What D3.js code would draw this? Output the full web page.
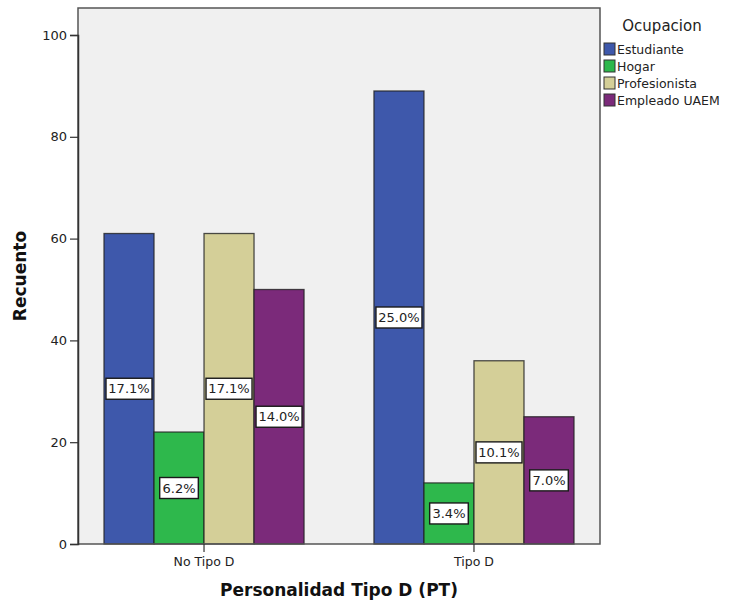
<!DOCTYPE html>
<html>
<head>
<meta charset="utf-8">
<script src="https://cdn.jsdelivr.net/npm/d3@7"></script>
<style>
  body { margin: 0; background: #ffffff; }
  svg { display: block; font-family: "DejaVu Sans", sans-serif; }
</style>
</head>
<body>
<svg id="chart" width="730" height="603"></svg>
<script>
const groups = ["No Tipo D", "Tipo D"];
const seriesNames = ["Estudiante", "Hogar", "Profesionista", "Empleado UAEM"];
const seriesColors = ["#3e58ab", "#2eb84c", "#d4cf98", "#7b2a7a"];
const estudiante = [61, 89];
const hogar = [22, 12];
const profesionista = [61, 36];
const empleado = [50, 25];
const pctLabels = [["17.1%", "25.0%"], ["6.2%", "3.4%"], ["17.1%", "10.1%"], ["14.0%", "7.0%"]];
const yTicks = [0, 20, 40, 60, 80, 100];

const seriesValues = [estudiante, hogar, profesionista, empleado];
const data = [];
seriesNames.forEach((s, si) => groups.forEach((g, gi) => {
  data.push({ series: s, si, group: g, value: seriesValues[si][gi], label: pctLabels[si][gi] });
}));

const svg = d3.select("#chart");
const pLeft = 78, pRight = 600, pTop = 8, pBottom = 544;

const x0 = d3.scaleBand().domain(groups).range([pLeft, pRight]).paddingInner(0.259).paddingOuter(0.0963);
const x1 = d3.scaleBand().domain(seriesNames).range([0, x0.bandwidth()]);
const y = d3.scaleLinear().domain([0, 100]).range([544, 35]);

// plot background
svg.append("rect").attr("x", pLeft).attr("y", pTop).attr("width", pRight - pLeft).attr("height", pBottom - pTop)
  .attr("fill", "#f0f0f0");

// bars
svg.append("g").selectAll("rect").data(data).join("rect")
  .attr("x", d => x0(d.group) + x1(d.series))
  .attr("y", d => y(d.value))
  .attr("width", x1.bandwidth())
  .attr("height", d => y(0) - y(d.value))
  .attr("fill", d => seriesColors[d.si])
  .attr("stroke", "#222").attr("stroke-opacity", 0.8).attr("stroke-width", 1.3);

// labels
const lab = svg.append("g").selectAll("g").data(data).join("g")
  .attr("transform", d => `translate(${x0(d.group) + x1(d.series) + x1.bandwidth() / 2},${y(d.value / 2)})`);
lab.append("rect")
  .attr("x", d => -(d.label.length * 7.4 + 9) / 2).attr("y", -10.5)
  .attr("width", d => d.label.length * 7.4 + 9).attr("height", 21)
  .attr("fill", "#ffffff").attr("stroke", "#1a1a1a").attr("stroke-width", 1.4);
lab.append("text").text(d => d.label)
  .attr("text-anchor", "middle").attr("dy", "0.36em")
  .attr("font-size", 13).attr("fill", "#222");

// frame
svg.append("rect").attr("x", pLeft).attr("y", pTop).attr("width", pRight - pLeft).attr("height", pBottom - pTop)
  .attr("fill", "none").attr("stroke", "#555").attr("stroke-width", 1.5);

// y axis
const yAxis = svg.append("g").attr("transform", `translate(${pLeft},0)`)
  .call(d3.axisLeft(y).tickValues(yTicks).tickSize(8).tickPadding(3).tickFormat(d3.format("d")));
yAxis.select(".domain").attr("stroke", "#333").attr("stroke-width", 1.5);
yAxis.selectAll(".tick line").attr("stroke", "#333").attr("stroke-width", 1.2);
yAxis.selectAll(".tick text").attr("font-size", 13).attr("fill", "#222").attr("font-family", "DejaVu Sans, sans-serif");

// x axis
const xAxis = svg.append("g").attr("transform", `translate(0,${pBottom})`)
  .call(d3.axisBottom(x0).tickSize(8).tickPadding(5));
xAxis.select(".domain").remove();
xAxis.selectAll(".tick line").attr("stroke", "#333").attr("stroke-width", 1.2);
xAxis.selectAll(".tick text").attr("font-size", 12.5).attr("fill", "#222").attr("font-family", "DejaVu Sans, sans-serif");

// axis titles
svg.append("text").text("Recuento")
  .attr("transform", "translate(26,276) rotate(-90)")
  .attr("text-anchor", "middle").attr("font-size", 17).attr("font-weight", "bold").attr("fill", "#111");
svg.append("text").text("Personalidad Tipo D (PT)")
  .attr("x", 339).attr("y", 596)
  .attr("text-anchor", "middle").attr("font-size", 17).attr("font-weight", "bold").attr("fill", "#111");

// legend
const leg = svg.append("g");
leg.append("text").text("Ocupacion").attr("x", 662).attr("y", 31)
  .attr("text-anchor", "middle").attr("font-size", 15).attr("fill", "#222");
const items = leg.selectAll("g").data(seriesNames).join("g")
  .attr("transform", (d, i) => `translate(604,${43 + i * 17})`);
items.append("rect").attr("width", 11).attr("height", 12)
  .attr("fill", (d, i) => seriesColors[i]).attr("stroke", "#333").attr("stroke-width", 1);
items.append("text").text(d => d).attr("x", 13).attr("y", 11)
  .attr("font-size", 12.5).attr("fill", "#222");
</script>
</body>
</html>
